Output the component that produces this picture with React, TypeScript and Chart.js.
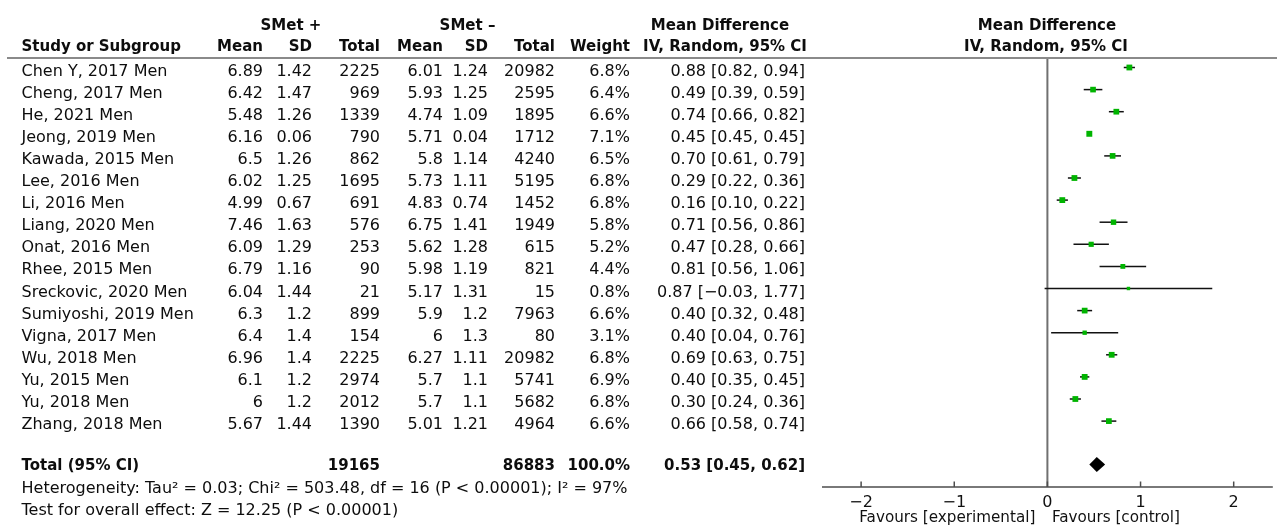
import React, { useEffect, useRef } from "react";
import { Chart, registerables } from "chart.js";

Chart.register(...registerables);

// ---------------- data ----------------
const studies = [
  "Chen Y, 2017 Men",
  "Cheng, 2017 Men",
  "He, 2021 Men",
  "Jeong, 2019 Men",
  "Kawada, 2015 Men",
  "Lee, 2016 Men",
  "Li, 2016 Men",
  "Liang, 2020 Men",
  "Onat, 2016 Men",
  "Rhee, 2015 Men",
  "Sreckovic, 2020 Men",
  "Sumiyoshi, 2019 Men",
  "Vigna, 2017 Men",
  "Wu, 2018 Men",
  "Yu, 2015 Men",
  "Yu, 2018 Men",
  "Zhang, 2018 Men",
];
const meanPlus = ["6.89", "6.42", "5.48", "6.16", "6.5", "6.02", "4.99", "7.46", "6.09", "6.79", "6.04", "6.3", "6.4", "6.96", "6.1", "6", "5.67"];
const sdPlus = ["1.42", "1.47", "1.26", "0.06", "1.26", "1.25", "0.67", "1.63", "1.29", "1.16", "1.44", "1.2", "1.4", "1.4", "1.2", "1.2", "1.44"];
const totalPlus = [2225, 969, 1339, 790, 862, 1695, 691, 576, 253, 90, 21, 899, 154, 2225, 2974, 2012, 1390];
const meanMinus = ["6.01", "5.93", "4.74", "5.71", "5.8", "5.73", "4.83", "6.75", "5.62", "5.98", "5.17", "5.9", "6", "6.27", "5.7", "5.7", "5.01"];
const sdMinus = ["1.24", "1.25", "1.09", "0.04", "1.14", "1.11", "0.74", "1.41", "1.28", "1.19", "1.31", "1.2", "1.3", "1.11", "1.1", "1.1", "1.21"];
const totalMinus = [20982, 2595, 1895, 1712, 4240, 5195, 1452, 1949, 615, 821, 15, 7963, 80, 20982, 5741, 5682, 4964];
const weights = [6.8, 6.4, 6.6, 7.1, 6.5, 6.8, 6.8, 5.8, 5.2, 4.4, 0.8, 6.6, 3.1, 6.8, 6.9, 6.8, 6.6];
const meanDiff = [0.88, 0.49, 0.74, 0.45, 0.7, 0.29, 0.16, 0.71, 0.47, 0.81, 0.87, 0.4, 0.4, 0.69, 0.4, 0.3, 0.66];
const ciLow = [0.82, 0.39, 0.66, 0.45, 0.61, 0.22, 0.1, 0.56, 0.28, 0.56, -0.03, 0.32, 0.04, 0.63, 0.35, 0.24, 0.58];
const ciHigh = [0.94, 0.59, 0.82, 0.45, 0.79, 0.36, 0.22, 0.86, 0.66, 1.06, 1.77, 0.48, 0.76, 0.75, 0.45, 0.36, 0.74];

const pooledMD = 0.53;
const pooledLow = 0.45;
const pooledHigh = 0.62;
const totalPlusSum = "19165";
const totalMinusSum = "86883";
const totalWeight = "100.0%";

const xTicks = [-2, -1, 0, 1, 2];
const xRange = [-2.42, 2.42];

const heterogeneityText = "Heterogeneity: Tau² = 0.03; Chi² = 503.48, df = 16 (P < 0.00001); I² = 97%";
const overallText = "Test for overall effect: Z = 12.25 (P < 0.00001)";
const favoursLeft = "Favours [experimental]";
const favoursRight = "Favours [control]";

// ---------------- layout ----------------
const W = 1277;
const H = 527;
const FONT = '"DejaVu Sans", Verdana, sans-serif';
const ROW0_BASE = 76;
const ROW_STEP = 22.1;
const ROW0_MARK = 67.5;
const PLOT_TOP = 57;
const PLOT_BOTTOM = 487;
const PLOT_LEFT = 822;
const PLOT_RIGHT = 1273;
const TOTAL_MARK_Y = 464.5;
const COLS = { mp: 263, sp: 312, tp: 380, mm: 443, sm: 488, tm: 555, w: 630, md: 805 };

const fmt = (v: number) => (v < 0 ? "−" + Math.abs(v).toFixed(2) : v.toFixed(2));
const fmtTick = (v: number) => (v < 0 ? "−" + Math.abs(v) : String(v));

type TProps = { x: number; base: number; align?: "left" | "right" | "center"; bold?: boolean; children: React.ReactNode };
function T({ x, base, align = "left", bold = false, children }: TProps) {
  const style: React.CSSProperties = {
    position: "absolute",
    top: base - (bold ? 16.2 : 16.5),
    lineHeight: "22px",
    fontSize: bold ? 15 : 16,
    fontWeight: bold ? "bold" : "normal",
    whiteSpace: "nowrap",
    color: "#0d0d0d",
  };
  if (align === "left") style.left = x;
  else if (align === "right") style.right = W - x;
  else {
    style.left = x;
    style.transform = "translateX(-50%)";
  }
  return <div style={style}>{children}</div>;
}

const forestPlugin = {
  id: "forestExtras",
  beforeDatasetsDraw(chart: any) {
    const { ctx, chartArea, scales } = chart;
    const x0 = scales.x.getPixelForValue(0);
    ctx.save();
    ctx.strokeStyle = "#707070";
    ctx.lineWidth = 2;
    ctx.beginPath();
    ctx.moveTo(x0, chartArea.top);
    ctx.lineTo(x0, chartArea.bottom);
    ctx.stroke();
    ctx.restore();
  },
  afterDatasetsDraw(chart: any) {
    const { ctx, chartArea, scales } = chart;
    const xs = scales.x;
    const ys = scales.y;
    const totalRow = (TOTAL_MARK_Y - ROW0_MARK) / ROW_STEP;
    const yp = ys.getPixelForValue(totalRow);
    ctx.save();
    // pooled diamond
    ctx.fillStyle = "#000";
    ctx.beginPath();
    ctx.moveTo(xs.getPixelForValue(pooledLow), yp);
    ctx.lineTo(xs.getPixelForValue(pooledMD), yp - 7.5);
    ctx.lineTo(xs.getPixelForValue(pooledHigh), yp);
    ctx.lineTo(xs.getPixelForValue(pooledMD), yp + 7.5);
    ctx.closePath();
    ctx.fill();
    // x axis
    const yb = chartArea.bottom;
    ctx.strokeStyle = "#4d4d4d";
    ctx.lineWidth = 1.5;
    ctx.beginPath();
    ctx.moveTo(chartArea.left, yb);
    ctx.lineTo(chartArea.right, yb);
    ctx.stroke();
    ctx.fillStyle = "#111";
    ctx.font = '16px "DejaVu Sans"';
    ctx.textAlign = "center";
    ctx.textBaseline = "alphabetic";
    for (const t of xTicks) {
      const px = xs.getPixelForValue(t);
      ctx.beginPath();
      ctx.moveTo(px, yb);
      ctx.lineTo(px, yb - 5.5);
      ctx.stroke();
      ctx.fillText(fmtTick(t), px, yb + 19.5);
    }
    const x0 = xs.getPixelForValue(0);
    ctx.font = '15.2px "DejaVu Sans"';
    ctx.textAlign = "right";
    ctx.fillText(favoursLeft, x0 - 12, yb + 34.5);
    ctx.textAlign = "left";
    ctx.fillText(favoursRight, x0 + 4.5, yb + 34.5);
    ctx.restore();
  },
};

export default function App() {
  const canvasRef = useRef<HTMLCanvasElement | null>(null);

  useEffect(() => {
    const canvas = canvasRef.current;
    if (!canvas) return;
    const ciDatasets = studies.map((s, i) => ({
      type: "scatter" as const,
      label: s + " CI",
      data: [
        { x: ciLow[i], y: i },
        { x: ciHigh[i], y: i },
      ],
      showLine: true,
      borderColor: "#111",
      borderWidth: 1.5,
      pointRadius: 0,
      order: 2,
    }));
    const markerDataset = {
      type: "scatter" as const,
      label: "Mean difference",
      data: studies.map((_, i) => ({ x: meanDiff[i], y: i })),
      pointStyle: "rect",
      pointRadius: weights.map((w) => 2.2 + 0.28 * w),
      backgroundColor: "#00b400",
      borderWidth: 0,
      showLine: false,
      order: 0,
    };
    const chart = new Chart(canvas, {
      type: "scatter",
      data: { datasets: [...ciDatasets, markerDataset] as any },
      options: {
        animation: false,
        responsive: false,
        devicePixelRatio: 1,
        events: [],
        clip: false as any,
        layout: {
          padding: { left: PLOT_LEFT, right: W - PLOT_RIGHT, top: PLOT_TOP, bottom: H - PLOT_BOTTOM },
        },
        plugins: { legend: { display: false }, tooltip: { enabled: false } },
        scales: {
          x: { type: "linear", display: false, min: xRange[0], max: xRange[1] },
          y: {
            type: "linear",
            display: false,
            reverse: true,
            min: (PLOT_TOP - ROW0_MARK) / ROW_STEP,
            max: (PLOT_BOTTOM - ROW0_MARK) / ROW_STEP,
          },
        },
      },
      plugins: [forestPlugin],
    });
    return () => chart.destroy();
  }, []);

  return (
    <div
      style={{
        position: "absolute",
        left: 0,
        top: 0,
        width: W,
        height: H,
        background: "#fff",
        fontFamily: FONT,
        overflow: "hidden",
      }}
    >
      <canvas ref={canvasRef} width={W} height={H} style={{ position: "absolute", left: 0, top: 0, width: W, height: H }} />
      <div style={{ position: "absolute", left: 7, top: 56.5, width: W - 7, height: 2, background: "#8a8a8a" }} />

      <T x={291} base={30.5} align="center" bold>SMet +</T>
      <T x={467.5} base={30.5} align="center" bold>SMet –</T>
      <T x={720} base={30.5} align="center" bold>Mean Difference</T>
      <T x={1047} base={30.5} align="center" bold>Mean Difference</T>

      <T x={21.5} base={51.5} bold>Study or Subgroup</T>
      <T x={COLS.mp} base={51.5} align="right" bold>Mean</T>
      <T x={COLS.sp} base={51.5} align="right" bold>SD</T>
      <T x={COLS.tp} base={51.5} align="right" bold>Total</T>
      <T x={COLS.mm} base={51.5} align="right" bold>Mean</T>
      <T x={COLS.sm} base={51.5} align="right" bold>SD</T>
      <T x={COLS.tm} base={51.5} align="right" bold>Total</T>
      <T x={COLS.w} base={51.5} align="right" bold>Weight</T>
      <T x={725} base={51.5} align="center" bold>IV, Random, 95% CI</T>
      <T x={1046} base={51.5} align="center" bold>IV, Random, 95% CI</T>

      {studies.map((s, i) => {
        const b = ROW0_BASE + ROW_STEP * i;
        return (
          <React.Fragment key={s + i}>
            <T x={21.5} base={b}>{s}</T>
            <T x={COLS.mp} base={b} align="right">{meanPlus[i]}</T>
            <T x={COLS.sp} base={b} align="right">{sdPlus[i]}</T>
            <T x={COLS.tp} base={b} align="right">{totalPlus[i]}</T>
            <T x={COLS.mm} base={b} align="right">{meanMinus[i]}</T>
            <T x={COLS.sm} base={b} align="right">{sdMinus[i]}</T>
            <T x={COLS.tm} base={b} align="right">{totalMinus[i]}</T>
            <T x={COLS.w} base={b} align="right">{weights[i].toFixed(1)}%</T>
            <T x={COLS.md} base={b} align="right">{`${fmt(meanDiff[i])} [${fmt(ciLow[i])}, ${fmt(ciHigh[i])}]`}</T>
          </React.Fragment>
        );
      })}

      <T x={21.5} base={470} bold>Total (95% CI)</T>
      <T x={COLS.tp} base={470} align="right" bold>{totalPlusSum}</T>
      <T x={COLS.tm} base={470} align="right" bold>{totalMinusSum}</T>
      <T x={COLS.w} base={470} align="right" bold>{totalWeight}</T>
      <T x={COLS.md} base={470} align="right" bold>{`${fmt(pooledMD)} [${fmt(pooledLow)}, ${fmt(pooledHigh)}]`}</T>
      <T x={21.5} base={493}>{heterogeneityText}</T>
      <T x={21.5} base={515}>{overallText}</T>
    </div>
  );
}
